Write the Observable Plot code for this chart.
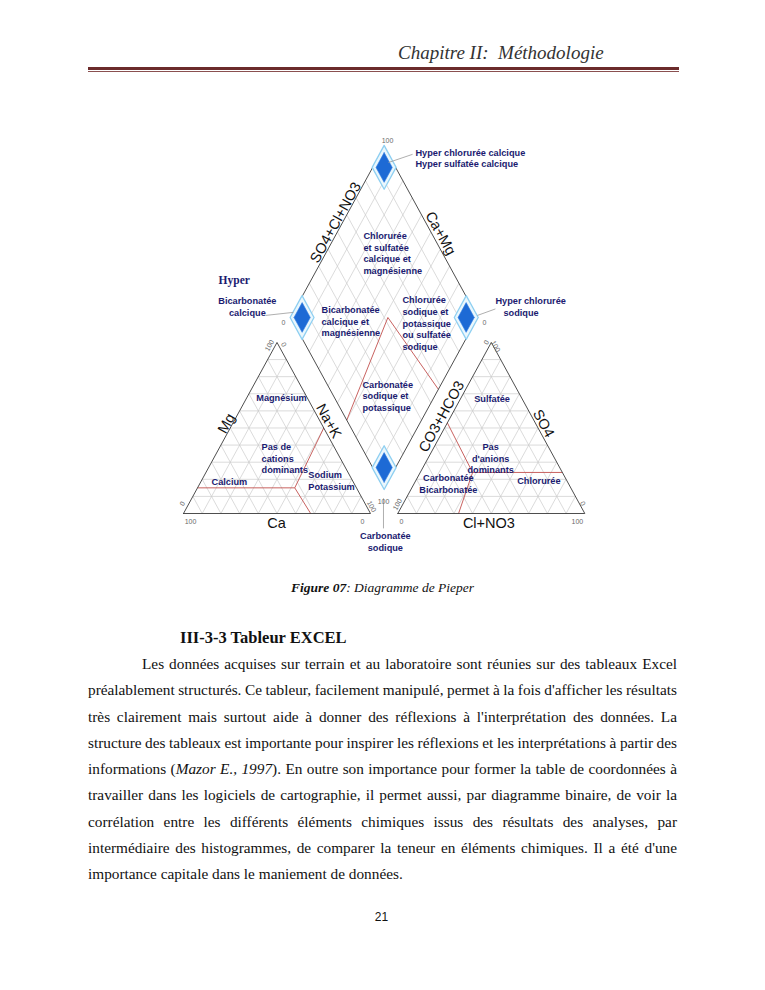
<!DOCTYPE html>
<html><head><meta charset="utf-8">
<script src="https://cdn.jsdelivr.net/npm/d3@7"></script>
<script src="https://cdn.jsdelivr.net/npm/@observablehq/plot@0.6"></script>
<style>
html,body{margin:0;padding:0;background:#fff;}
#page{position:relative;width:765px;height:990px;overflow:hidden;background:#fff;}
.abs{position:absolute;white-space:nowrap;}
#header{left:398px;top:43px;font:italic 19px/19px "Liberation Serif","Times New Roman",serif;color:#333;}
.rule1{left:88px;top:67px;width:591px;height:2.5px;background:#6b2b2b;}
.rule2{left:88px;top:70.5px;width:591px;height:1px;background:#8a5050;}
#caption{left:0;width:765px;text-align:center;top:580.7px;font:italic 13.5px/13.5px "Liberation Serif","Times New Roman",serif;color:#111;}
#heading{left:180px;top:629.6px;font:bold 16.5px/16.5px "Liberation Serif","Times New Roman",serif;color:#111;}
#para{left:88px;top:651.2px;width:589px;font-family:"Liberation Serif","Times New Roman",serif;font-size:15.3px;line-height:26.25px;color:#111;}
.ln{display:block;height:26.25px;white-space:nowrap;font-family:"Liberation Serif","Times New Roman",serif;}
.ln span{white-space:nowrap;font-family:"Liberation Serif","Times New Roman",serif;}
#pagenum{left:0;width:763px;text-align:center;top:910.8px;font:12px/12px "Liberation Sans",sans-serif;color:#111;}
#chart{position:absolute;left:0;top:90px;}
</style>
</head>
<body>
<div id="page">
  <div class="abs" id="header">Chapitre II:&nbsp; Méthodologie</div>
  <div class="abs rule1"></div>
  <div class="abs rule2"></div>
  <div id="chart"></div>
  <div class="abs" id="caption"><b>Figure 07</b>: Diagramme de Pieper</div>
  <div class="abs" id="heading">III-3-3 Tableur EXCEL</div>
  <div class="abs" id="para"></div>
  <div class="abs" id="pagenum">21</div>
</div>
<script>
// ---------------- data ----------------
const gridSteps = [10, 20, 30, 40, 50, 60, 70, 80, 90];

// cation triangle red class lines: [Mg %, Na+K %]
const cationRed = [
  [[15, 0], [15, 52]],
  [[15, 52], [0, 68]],
  [[15, 52], [50, 50]]
];
// anion triangle red class lines: [SO4 %, Cl+NO3 %]
const anionRed = [
  [[24, 28], [24, 76]],
  [[24, 28], [0, 32.5]],
  [[24, 28], [53, 0]]
];
// diamond red line: [SO4+Cl+NO3 %, Ca+Mg %]
const diamondRed = [[0, 40], [52, 48], [58, 0]];

// diamond corners (hyper zones)
const hyperCorners = [[100, 100], [0, 100], [100, 0], [0, 0]];

// leader lines in diamond coords
const leaders = [
  [[97.6, 93], [112.9, 82.5]],
  [[-12.8, 114], [3, 100]],
  [[100.5, 0.7], [112, -7]],
  [[-3.2, -2.5], [-12, -11.3]]
];

const cationZones = [
  {label: "Magnésium", mg: 67.8, nak: 18.5, anchor: "middle"},
  {label: "Pas de\ncations\ndominants", mg: 32.5, nak: 25.5, anchor: "start"},
  {label: "Calcium", mg: 18.7, nak: 15.2, anchor: "middle"},
  {label: "Sodium\nPotassium", mg: 19.3, nak: 57.1, anchor: "start"}
];
const anionZones = [
  {label: "Sulfatée", so4: 67.2, cl: 16.8, anchor: "middle"},
  {label: "Pas\nd'anions\ndominants", so4: 32.5, cl: 33.4, anchor: "middle"},
  {label: "Carbonatée\nBicarbonatée", so4: 17.5, cl: 18.3, anchor: "middle"},
  {label: "Chlorurée", so4: 19.3, cl: 65.8, anchor: "middle"}
];
const diamondZones = [
  {label: "Chlorurée\net sulfatée\ncalcique et\nmagnésienne", a: 57.8, c: 80.0, anchor: "start"},
  {label: "Bicarbonatée\ncalcique et\nmagnésienne", a: 15.5, c: 82.5, anchor: "start"},
  {label: "Chlorurée\nsodique et\npotassique\nou sulfatée\nsodique", a: 58.2, c: 38.6, anchor: "start"},
  {label: "Carbonatée\nsodique et\npotassique", a: 15.6, c: 38.8, anchor: "start"},
  {label: "Hyper chlorurée calcique\nHyper sulfatée calcique", a: 113.4, c: 79.9, anchor: "start"},
  {label: "Bicarbonatée\ncalcique", a: -19.9, c: 126.4, anchor: "middle"},
  {label: "Hyper chlorurée", a: 114.4, c: -4.6, anchor: "start"},
  {label: "sodique", a: 115.3, c: -12.3, anchor: "start"},
  {label: "Carbonatée\nsodique", a: -14.8, c: -16.1, anchor: "middle"}
];
const hyperWord = [{label: "Hyper", a: -27.7, c: 149.4}];

const cationTicks = [
  {t: "100", mg: 98.2, nak: -3.1, rot: -61},
  {t: "0", mg: 98.8, nak: 4.1, rot: 61},
  {t: "100", mg: -4.7, nak: 6.1, rot: 0},
  {t: "0", mg: 5.8, nak: -3.4, rot: -61},
  {t: "0", mg: -4.7, nak: 98, rot: 0},
  {t: "100", mg: 4.1, nak: 98.5, rot: 61}
];
const anionTicks = [
  {t: "0", so4: 100, cl: -2.6, rot: -61},
  {t: "100", so4: 97.7, cl: 3.4, rot: 61},
  {t: "100", so4: 5.3, cl: -2.8, rot: -61},
  {t: "0", so4: -4.7, cl: 4.3, rot: 0},
  {t: "0", so4: 5.8, cl: 95.9, rot: 61},
  {t: "100", so4: -4.7, cl: 98.4, rot: 0}
];
const diamondTicks = [
  {t: "100", a: 103.6, c: 100},
  {t: "0", a: -5.2, c: 102.4},
  {t: "0", a: 102.2, c: -5.2},
  {t: "100", a: -4.1, c: -3.4}
];

const diamondTitles = [
  {t: "SO4+Cl+NO3", a: 51.8, c: 103.7, rot: -61},
  {t: "Ca+Mg", a: 104.7, c: 44.5, rot: 61},
  {t: "Na+K", a: -10, c: 49.4, rot: 61},
  {t: "CO3+HCO3", a: 51.8, c: -9.7, rot: -61}
];
const cationTitles = [
  {t: "Mg", mg: 52.6, nak: -3.3, rot: -61},
  {t: "Ca", mg: -5.8, nak: 52.6, rot: 0}
];
const anionTitles = [
  {t: "Cl+NO3", so4: -5.8, cl: 51.6, rot: 0},
  {t: "SO4", so4: 52.6, cl: 51.6, rot: 61}
];

const paraLines = [
  "Les données acquises sur terrain et au laboratoire sont réunies sur des tableaux Excel",
  "préalablement structurés. Ce tableur, facilement manipulé, permet à la fois d'afficher les résultats",
  "très clairement mais surtout aide à donner des réflexions à l'interprétation des données. La",
  "structure des tableaux est importante pour inspirer les réflexions et les interprétations à partir des",
  "informations (<i>Mazor E., 1997</i>). En outre son importance pour former la table de coordonnées à",
  "travailler dans les logiciels de cartographie, il permet aussi, par diagramme binaire, de voir la",
  "corrélation entre les différents éléments chimiques issus des résultats des analyses, par",
  "intermédiaire des histogrammes, de comparer la teneur en éléments chimiques. Il a été d'une",
  "importance capitale dans le maniement de données."
];

// ---------------- geometry ----------------
const G = 14.6, S3 = Math.sqrt(3) / 2;
const BX = 100 + G / 2, BY = S3 * G;
const cat = (mg, nak) => [nak + mg / 2, S3 * mg];
const ani = (so4, cl) => [100 + G + cl + so4 / 2, S3 * so4];
const dia = (a, c) => [BX + (a - c) / 2, BY + S3 * (a + c)];
const seg = (p, q) => ({x1: p[0], y1: p[1], x2: q[0], y2: q[1]});

const grid = [];
for (const k of gridSteps) {
  grid.push(seg(cat(k, 0), cat(k, 100 - k)));
  grid.push(seg(cat(0, k), cat(100 - k, k)));
  grid.push(seg(cat(0, 100 - k), cat(100 - k, 0)));
  grid.push(seg(ani(k, 0), ani(k, 100 - k)));
  grid.push(seg(ani(0, k), ani(100 - k, k)));
  grid.push(seg(ani(0, 100 - k), ani(100 - k, 0)));
  grid.push(seg(dia(k, 0), dia(k, 100)));
  grid.push(seg(dia(0, k), dia(100, k)));
}
const red = [];
cationRed.forEach(([p, q]) => red.push(seg(cat(...p), cat(...q))));
anionRed.forEach(([p, q]) => red.push(seg(ani(...p), ani(...q))));
for (let i = 1; i < diamondRed.length; i++) red.push(seg(dia(...diamondRed[i - 1]), dia(...diamondRed[i])));

const outline = [];
const pushPoly = (arr, name, pts) => pts.forEach(p => arr.push({x: p[0], y: p[1], shape: name}));
pushPoly(outline, "cat", [cat(0, 0), cat(0, 100), cat(100, 0), cat(0, 0)]);
pushPoly(outline, "ani", [ani(0, 0), ani(0, 100), ani(100, 0), ani(0, 0)]);
pushPoly(outline, "dia", [dia(0, 0), dia(100, 0), dia(100, 100), dia(0, 100), dia(0, 0)]);

const hyperOuter = [], hyperInner = [];
hyperCorners.forEach(([a0, c0], i) => {
  const da = a0 === 100 ? -1 : 1, dc = c0 === 100 ? -1 : 1;
  const sq = (o, s) => [dia(a0 + da * o, c0 + dc * o), dia(a0 + da * s, c0 + dc * o),
                        dia(a0 + da * s, c0 + dc * s), dia(a0 + da * o, c0 + dc * s), dia(a0 + da * o, c0 + dc * o)];
  pushPoly(hyperOuter, "h" + i, sq(-0.3, 12.5));
  pushPoly(hyperInner, "h" + i, sq(1.8, 10.5));
});

const leadSegs = leaders.map(([p, q]) => seg(dia(...p), dia(...q)));

const withXY = (arr, f, k1, k2) => arr.map(d => { const [x, y] = f(d[k1], d[k2]); return {...d, x, y}; });
const zones = [
  ...withXY(cationZones, cat, "mg", "nak"),
  ...withXY(anionZones, ani, "so4", "cl"),
  ...withXY(diamondZones, dia, "a", "c")
];
const ticks = [
  ...withXY(cationTicks, cat, "mg", "nak"),
  ...withXY(anionTicks, ani, "so4", "cl"),
  ...withXY(diamondTicks, dia, "a", "c").map(d => ({...d, rot: 0}))
];
const titles = [
  ...withXY(diamondTitles, dia, "a", "c"),
  ...withXY(cationTitles, cat, "mg", "nak"),
  ...withXY(anionTitles, ani, "so4", "cl")
];
const hyperW = withXY(hyperWord, dia, "a", "c");

// ---------------- plot ----------------
const TOP = 90, PX = 1.87, PY = 1.975, X0 = 183, Y0 = 513;
const XMAX = 200 + G, YMAX = BY + 2 * S3 * 100;
const navy = "#1b1b70";
const lbl = {x: "x", y: "y", text: "label", fill: navy, fontFamily: "Liberation Sans, Arial, sans-serif",
             fontWeight: "bold", fontSize: 9.2, lineHeight: 1.27};
const chart = Plot.plot({
  width: 765, height: 480,
  marginTop: 0, marginRight: 0, marginBottom: 0, marginLeft: 0,
  x: {domain: [0, XMAX], range: [X0, X0 + XMAX * PX], axis: null},
  y: {domain: [0, YMAX], range: [Y0 - TOP, Y0 - TOP - YMAX * PY], axis: null},
  style: {background: "transparent"},
  marks: [
    Plot.link(grid, {x1: "x1", y1: "y1", x2: "x2", y2: "y2", stroke: "#cbcbcb", strokeWidth: 0.7}),
    Plot.link(red, {x1: "x1", y1: "y1", x2: "x2", y2: "y2", stroke: "#c2504e", strokeWidth: 0.9}),
    Plot.line(outline, {x: "x", y: "y", z: "shape", stroke: "#3a3a3a", strokeWidth: 0.9}),
    Plot.line(hyperOuter, {x: "x", y: "y", z: "shape", stroke: "#8fd0f2", strokeWidth: 1.3, fill: "#eaf7fd"}),
    Plot.line(hyperInner, {x: "x", y: "y", z: "shape", stroke: "#2a7be0", strokeWidth: 0.6, fill: "#1d6ad5"}),
    Plot.link(leadSegs, {x1: "x1", y1: "y1", x2: "x2", y2: "y2", stroke: "#9a9a9a", strokeWidth: 0.8}),
    Plot.text(ticks, {x: "x", y: "y", text: "t", rotate: "rot", fill: "#6a6a6a", fontSize: 7,
                      fontFamily: "Liberation Sans, Arial, sans-serif"}),
    Plot.text(titles, {x: "x", y: "y", text: "t", rotate: "rot", fill: "#111", fontSize: 14.5,
                       fontFamily: "Liberation Sans, Arial, sans-serif"}),
    Plot.text(zones, {...lbl, filter: d => d.anchor === "start", textAnchor: "start"}),
    Plot.text(zones, {...lbl, filter: d => d.anchor === "middle", textAnchor: "middle"}),
    Plot.text(hyperW, {x: "x", y: "y", text: "label", textAnchor: "start", fill: navy, fontSize: 11.5,
                       fontWeight: "bold", fontFamily: "Liberation Serif, serif"})
  ]
});
document.getElementById("chart").appendChild(chart);

// ---------------- paragraph ----------------
const para = document.getElementById("para");
const W = 589, INDENT = 54;
paraLines.forEach((txt, i) => {
  const div = document.createElement("div");
  div.className = "ln";
  const span = document.createElement("span");
  span.innerHTML = txt;
  if (i === 0) span.style.marginLeft = INDENT + "px";
  div.appendChild(span);
  para.appendChild(div);
  if (i < paraLines.length - 1) {
    const avail = W - (i === 0 ? INDENT : 0);
    const nat = span.getBoundingClientRect().width;
    const spaces = (span.textContent.match(/ /g) || []).length;
    span.style.wordSpacing = ((avail - nat) / spaces) + "px";
  }
});
</script>
</body></html>
